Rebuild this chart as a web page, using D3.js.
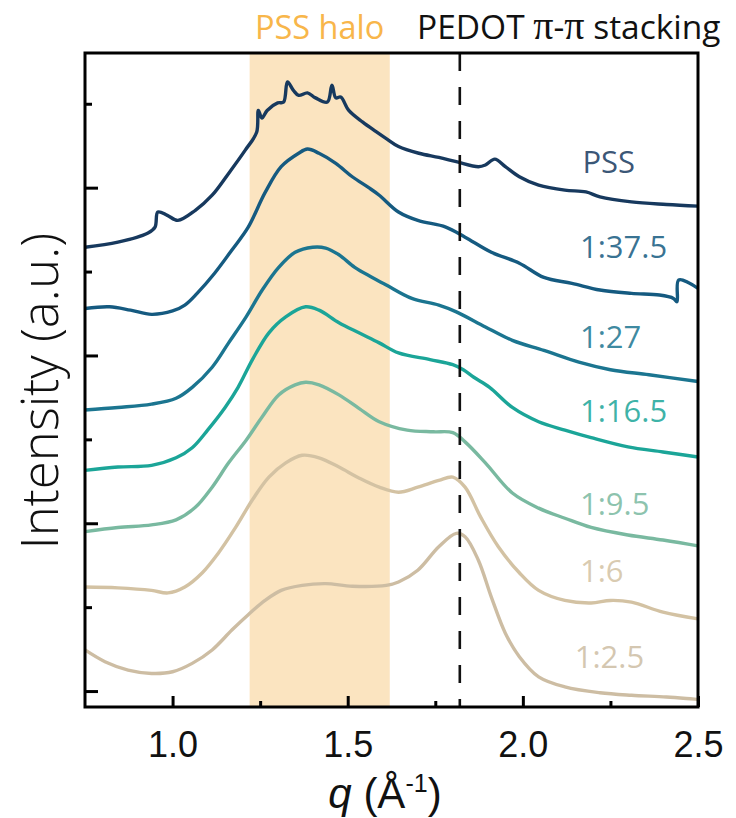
<!DOCTYPE html>
<html>
<head>
<meta charset="utf-8">
<script src="https://cdn.jsdelivr.net/npm/d3@7"></script>
<style>
  body { margin: 0; background: #fff; }
  svg { display: block; }
</style>
</head>
<body>
<svg id="chart" width="736" height="818"></svg>
<script>
// WAXS line profiles, offset vertically (q in Å^-1, intensity in a.u.)
const seriesNames = ["PSS", "1:37.5", "1:27", "1:16.5", "1:9.5", "1:6", "1:2.5"];
const seriesColors = ["#17395e", "#155a80", "#1b7590", "#1ba598", "#79b9a0", "#d3c2a3", "#cdbda3"];

const pss = [[0.75,5.29],[0.844,5.35],[0.93,5.46],[0.95,5.53],[0.958,5.71],[0.985,5.67],[1.015,5.61],
  [1.065,5.73],[1.113,5.91],[1.16,6.17],[1.208,6.45],[1.24,6.66],[1.245,6.92],[1.255,6.83],[1.27,6.92],
  [1.30,7.01],[1.317,7.02],[1.328,7.26],[1.345,7.16],[1.36,7.10],[1.385,7.13],[1.408,7.07],[1.442,7.02],
  [1.455,7.22],[1.466,7.07],[1.48,7.08],[1.503,6.92],[1.543,6.78],[1.58,6.67],[1.608,6.59],[1.645,6.49],
  [1.703,6.41],[1.76,6.36],[1.81,6.31],[1.873,6.25],[1.893,6.27],[1.92,6.34],[1.95,6.25],[1.99,6.13],
  [2.045,6.03],[2.12,5.97],[2.18,5.95],[2.22,5.89],[2.31,5.83],[2.41,5.80],[2.5,5.78]];
const r37 = [[0.75,4.56],[0.82,4.58],[0.88,4.54],[0.94,4.49],[1.0,4.53],[1.035,4.60],[1.07,4.74],
  [1.12,4.98],[1.17,5.26],[1.216,5.53],[1.264,5.94],[1.31,6.25],[1.36,6.41],[1.385,6.46],[1.418,6.41],
  [1.466,6.29],[1.513,6.13],[1.56,6.00],[1.59,5.91],[1.645,5.71],[1.70,5.61],[1.78,5.53],[1.835,5.41],
  [1.91,5.23],[1.99,5.10],[2.06,4.93],[2.14,4.86],[2.22,4.78],[2.31,4.74],[2.39,4.72],[2.43,4.68],
  [2.44,4.64],[2.445,4.90],[2.5,4.80]];
const r27 = [[0.75,3.35],[0.844,3.38],[0.94,3.42],[1.01,3.49],[1.056,3.62],[1.113,3.86],[1.16,4.15],
  [1.21,4.46],[1.256,4.78],[1.303,5.05],[1.35,5.23],[1.40,5.29],[1.437,5.28],[1.475,5.20],[1.52,5.05],
  [1.57,4.93],[1.61,4.84],[1.683,4.68],[1.76,4.60],[1.81,4.52],[1.893,4.34],[1.97,4.18],[2.06,4.06],
  [2.16,3.92],[2.25,3.83],[2.36,3.77],[2.5,3.69]];
const r16 = [[0.75,2.63],[0.844,2.67],[0.94,2.69],[1.01,2.78],[1.056,2.90],[1.10,3.11],[1.15,3.38],
  [1.187,3.62],[1.228,3.95],[1.275,4.27],[1.323,4.46],[1.38,4.58],[1.418,4.54],[1.475,4.39],[1.532,4.27],
  [1.59,4.15],[1.645,4.03],[1.735,3.95],[1.80,3.89],[1.83,3.83],[1.86,3.74],[1.905,3.62],[1.97,3.38],
  [2.045,3.21],[2.12,3.11],[2.195,3.02],[2.30,2.91],[2.40,2.85],[2.5,2.79]];
const r9 = [[0.75,1.90],[0.844,1.95],[0.94,1.98],[1.01,2.04],[1.065,2.19],[1.113,2.43],[1.16,2.72],
  [1.21,2.99],[1.256,3.27],[1.303,3.53],[1.35,3.65],[1.38,3.68],[1.418,3.65],[1.475,3.53],[1.532,3.37],
  [1.59,3.21],[1.67,3.11],[1.745,3.09],[1.80,3.08],[1.835,2.97],[1.893,2.72],[1.97,2.36],[2.045,2.18],
  [2.12,2.06],[2.195,1.95],[2.30,1.86],[2.40,1.80],[2.5,1.73]];
const r6 = [[0.75,1.24],[0.844,1.23],[0.94,1.20],[0.987,1.17],[1.035,1.24],[1.085,1.41],[1.13,1.64],
  [1.18,1.95],[1.228,2.28],[1.275,2.55],[1.323,2.72],[1.37,2.81],[1.418,2.78],[1.475,2.67],[1.532,2.54],
  [1.59,2.43],[1.645,2.37],[1.70,2.43],[1.76,2.51],[1.80,2.55],[1.835,2.43],[1.88,2.07],[1.93,1.72],
  [1.99,1.41],[2.045,1.20],[2.12,1.08],[2.195,1.05],[2.25,1.08],[2.31,1.06],[2.40,0.94],[2.5,0.86]];
const r2 = [[0.75,0.49],[0.807,0.35],[0.873,0.25],[0.94,0.21],[1.0,0.23],[1.056,0.33],[1.113,0.49],
  [1.17,0.73],[1.216,0.91],[1.264,1.08],[1.31,1.20],[1.37,1.26],[1.437,1.28],[1.513,1.25],[1.61,1.26],
  [1.645,1.30],[1.70,1.44],[1.76,1.72],[1.81,1.88],[1.835,1.84],[1.873,1.56],[1.91,1.12],[1.95,0.69],
  [1.99,0.41],[2.045,0.17],[2.12,0.05],[2.22,-0.02],[2.31,-0.05],[2.41,-0.07],[2.5,-0.10]];
const seriesData = [pss, r37, r27, r16, r9, r6, r2];

// where each curve's name sits, in data units (q, intensity)
const labelAnchors = [[2.170,6.17],[2.163,5.16],[2.163,4.09],[2.163,3.21],[2.163,2.10],[2.163,1.30],[2.148,0.27]];

const xMajorTicks = [1.0, 1.5, 2.0, 2.5];
const xMinorTicks = [1.25, 1.75, 2.25];
const yMajorTicks = [0, 2, 4, 6];
const yMinorTicks = [1, 3, 5, 7];
const haloBand = [1.22, 1.62];
const stackingQ = 1.82;

const svg = d3.select("#chart");
const plot = { left: 85, right: 698, top: 53, bottom: 707 };

const x = d3.scaleLinear().domain([0.75, 2.5]).range([plot.left, plot.right]);
const y = d3.scaleLinear().domain([-0.19, 7.605]).range([plot.bottom, plot.top]);

// PSS amorphous halo band
svg.append("rect")
  .attr("x", x(haloBand[0])).attr("y", plot.top)
  .attr("width", x(haloBand[1]) - x(haloBand[0]))
  .attr("height", plot.bottom - plot.top)
  .attr("fill", "#fbe4c0");

const line = d3.line().x(d => x(d[0])).y(d => y(d[1])).curve(d3.curveCatmullRom.alpha(0.5));

const g = svg.append("g");
seriesData.forEach((s, i) => {
  g.append("path")
    .attr("d", line(s))
    .attr("fill", "none")
    .attr("stroke", seriesColors[i])
    .attr("stroke-width", 3.4)
    .attr("stroke-linejoin", "round");
});

// PEDOT pi-pi stacking position
svg.append("line")
  .attr("x1", x(stackingQ)).attr("x2", x(stackingQ))
  .attr("y1", plot.top).attr("y2", plot.bottom)
  .attr("stroke", "#111").attr("stroke-width", 2.6)
  .attr("stroke-dasharray", "18,16");

// frame
svg.append("rect")
  .attr("x", plot.left).attr("y", plot.top)
  .attr("width", plot.right - plot.left).attr("height", plot.bottom - plot.top)
  .attr("fill", "none").attr("stroke", "#000").attr("stroke-width", 3);

// inward ticks via d3 axes
const xAxis = svg.append("g").attr("transform", `translate(0,${plot.bottom})`)
  .call(d3.axisBottom(x).tickValues(xMajorTicks).tickSize(-11).tickFormat(d3.format(".1f")).tickPadding(20));
const xMinor = svg.append("g").attr("transform", `translate(0,${plot.bottom})`)
  .call(d3.axisBottom(x).tickValues(xMinorTicks).tickSize(-6).tickFormat(""));
const yAxis = svg.append("g").attr("transform", `translate(${plot.left},0)`)
  .call(d3.axisLeft(y).tickValues(yMajorTicks).tickSize(-13).tickFormat(""));
const yMinor = svg.append("g").attr("transform", `translate(${plot.left},0)`)
  .call(d3.axisLeft(y).tickValues(yMinorTicks).tickSize(-7).tickFormat(""));

[xAxis, xMinor, yAxis, yMinor].forEach(a => {
  a.select(".domain").remove();
  a.selectAll(".tick line").attr("stroke", "#000").attr("stroke-width", 3);
});
xAxis.selectAll(".tick text")
  .attr("font-family", "'Liberation Sans', Arial, sans-serif")
  .attr("font-size", 36).attr("fill", "#111")
  .attr("dy", "0.71em").attr("y", 24);

// curve names
const labelFont = "'Open Sans', 'Noto Sans', sans-serif";
seriesNames.forEach((n, i) => {
  svg.append("text")
    .attr("x", x(labelAnchors[i][0])).attr("y", y(labelAnchors[i][1]))
    .attr("font-family", labelFont).attr("font-size", 31)
    .attr("fill", seriesColors[i]).attr("fill-opacity", 0.85)
    .text(n);
});

// headers above the frame
svg.append("text")
  .attr("x", (x(haloBand[0]) + x(haloBand[1])) / 2).attr("y", 39)
  .attr("text-anchor", "middle")
  .attr("font-family", labelFont).attr("font-size", 32.5)
  .attr("fill", "#f8b64a")
  .text("PSS halo");

const pedot = svg.append("text")
  .attr("x", 417).attr("y", 39)
  .attr("font-family", labelFont).attr("font-size", 33.5)
  .attr("fill", "#111");
pedot.append("tspan").text("PEDOT ");
pedot.append("tspan").attr("font-family", "'Liberation Serif', serif").attr("font-size", 40).text("π");
pedot.append("tspan").text("-");
pedot.append("tspan").attr("font-family", "'Liberation Serif', serif").attr("font-size", 40).text("π");
pedot.append("tspan").text(" stacking");

// axis titles
svg.append("text")
  .attr("transform", `translate(58,${(plot.top + plot.bottom) / 2 + 11}) rotate(-90)`)
  .attr("text-anchor", "middle")
  .attr("font-family", "'Open Sans', 'Liberation Sans', sans-serif")
  .attr("font-weight", 300)
  .attr("font-size", 51).attr("fill", "#111")
  .text("Intensity (a.u.)");

const xt = svg.append("text")
  .attr("x", 385).attr("y", 808)
  .attr("text-anchor", "middle")
  .attr("font-family", "'Liberation Sans', Arial, sans-serif")
  .attr("font-size", 42).attr("fill", "#111");
xt.append("tspan").attr("font-style", "italic").text("q");
xt.append("tspan").text(" (Å");
xt.append("tspan").attr("font-size", 25).attr("dy", -16).text("-1");
xt.append("tspan").attr("dy", 16).text(")");
</script>
</body>
</html>
